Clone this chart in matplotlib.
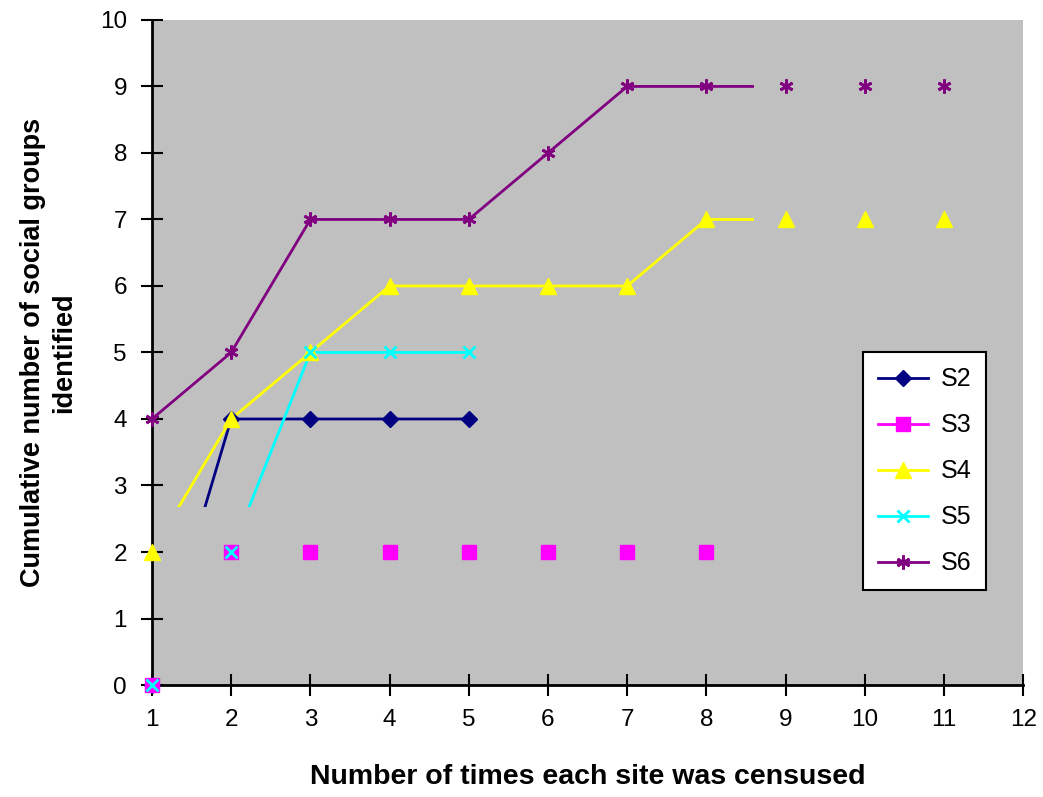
import matplotlib
matplotlib.use('Agg')
import matplotlib.pyplot as plt
from matplotlib.lines import Line2D
from matplotlib.patches import Rectangle

plt.rcParams['font.family'] = ['Liberation Sans', 'DejaVu Sans']

# data
x_s2 = [1, 2, 3, 4, 5]
y_s2 = [0, 4, 4, 4, 4]
x_s3 = [1, 2, 3, 4, 5, 6, 7, 8]
y_s3 = [0, 2, 2, 2, 2, 2, 2, 2]
x_s4 = [1, 2, 3, 4, 5, 6, 7, 8, 9, 10, 11]
y_s4 = [2, 4, 5, 6, 6, 6, 6, 7, 7, 7, 7]
x_s5 = [1, 2, 3, 4, 5]
y_s5 = [0, 2, 5, 5, 5]
x_s6 = [1, 2, 3, 4, 5, 6, 7, 8, 9, 10, 11]
y_s6 = [4, 5, 7, 7, 7, 8, 9, 9, 9, 9, 9]

names = ['S2', 'S3', 'S4', 'S5', 'S6']
xs = [x_s2, x_s3, x_s4, x_s5, x_s6]
ys = [y_s2, y_s3, y_s4, y_s5, y_s6]
colors = ['#000080', '#FF00FF', '#FFFF00', '#00FFFF', '#800080']
markers = ['D', 's', '^', 'x', (6, 2, 0)]
msizes = [8, 10, 12, 8, 10]

fig = plt.figure(figsize=(10.43, 7.97), dpi=100, facecolor='white')
ax = fig.add_axes([0.1457, 0.1405, 0.8353, 0.8345])
ax.set_facecolor('#C0C0C0')

# the old excel export only drew the line segments inside this box
clip_box = Rectangle((1, 2.67), 7.6, 7.33, transform=ax.transData,
                     facecolor='none', edgecolor='none')
ax.add_patch(clip_box)

handles = []
for x, y, c, m, ms, n in zip(xs, ys, colors, markers, msizes, names):
    ln, = ax.plot(x, y, color=c, lw=2, zorder=2)
    ln.set_clip_path(clip_box)
    mew = 2 if m in ('x',) or isinstance(m, tuple) else 1
    ax.plot(x, y, ls='none', marker=m, ms=ms, color=c, mec=c, mew=mew,
            clip_on=False, zorder=3)
    handles.append(Line2D([], [], color=c, lw=2, marker=m, ms=ms, mec=c,
                          mew=mew, label=n))

ax.set_xlim(1, 12)
ax.set_ylim(0, 10)
ax.set_xticks(range(1, 13))
ax.set_yticks(range(0, 11))
ax.tick_params(direction='inout', length=16, width=1.5, labelsize=17.5)
ax.tick_params(axis='x', pad=9)
ax.tick_params(axis='y', pad=10)
for s in ['top', 'right']:
    ax.spines[s].set_visible(False)
for s in ['left', 'bottom']:
    ax.spines[s].set_linewidth(2)

ax.set_xlabel('Number of times each site was censused', fontsize=20.5,
              fontweight='bold', labelpad=24)
ax.set_ylabel('Cumulative number of social groups\nidentified', fontsize=19.5,
              fontweight='bold', labelpad=16, linespacing=1.3)

leg = ax.legend(handles=handles, loc='upper left',
                bbox_to_anchor=(0.816, 0.5), frameon=True, fancybox=False,
                edgecolor='black', facecolor='white', framealpha=1,
                fontsize=18, handlelength=2.0, labelspacing=0.88,
                borderpad=0.6, handletextpad=0.5, borderaxespad=0)
leg.get_frame().set_linewidth(1.5)

fig.savefig('out.png', dpi=100)
